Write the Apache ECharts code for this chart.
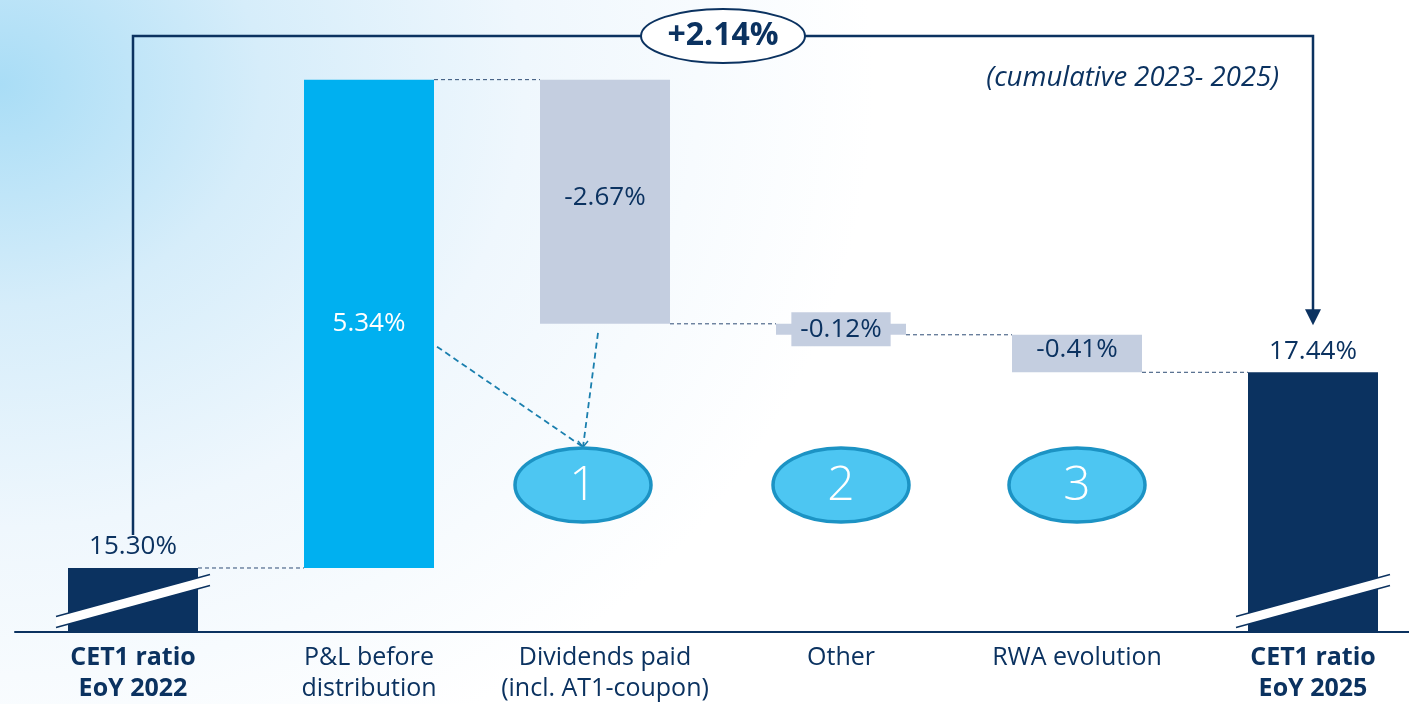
<!DOCTYPE html>
<html>
<head>
<meta charset="utf-8">
<script src="https://cdn.jsdelivr.net/npm/echarts@6/dist/echarts.min.js"></script>
<style>
  html, body { margin: 0; padding: 0; }
  body {
    background: radial-gradient(ellipse 62% 105% at 0% 12%, #a9ddf6 0%, #d6edfa 30%, #eff7fd 60%, #ffffff 100%);
  }
  #chart { width: 1409px; height: 704px; }
</style>
</head>
<body>
<div id="chart"></div>
<script>
  // categories and values (in % points of CET1 ratio)
  var categories = ['CET1 ratio\nEoY 2022', 'P&L before\ndistribution', 'Dividends paid\n(incl. AT1-coupon)', 'Other', 'RWA evolution', 'CET1 ratio\nEoY 2025'];
  var changes = [15.30, 5.34, -2.67, -0.12, -0.41, 17.44];
  var isTotal = [true, false, false, false, false, true];
  var markerLabels = ['1', '2', '3'];
  var markerCats = [2, 3, 4];
  var subtitle = '(cumulative 2023- 2025)';
  var breakLevel = 14.94;   // where the axis-break slash sits on the total bars

  var NAVY = '#0b3260';
  var CYAN = '#00b0f0';
  var GREY = '#c4cee0';
  var FONT = '"Open Sans", sans-serif';

  // waterfall: transparent base + visible part
  var bases = [], heights = [], levels = [];
  var running = 0;
  changes.forEach(function (v, i) {
    if (isTotal[i]) {
      bases.push(0); heights.push(v); running = v;
    } else if (v >= 0) {
      bases.push(running); heights.push(v); running += v;
    } else {
      running += v; bases.push(running); heights.push(-v);
    }
    levels.push(+running.toFixed(2));
  });

  function fmt(v) { return (v < 0 ? '-' : '') + Math.abs(v).toFixed(2) + '%'; }

  var valueData = heights.map(function (h, i) {
    var color = isTotal[i] ? NAVY : (changes[i] >= 0 ? CYAN : GREY);
    var label;
    if (isTotal[i]) {
      label = { position: 'top', distance: 8, color: NAVY };
    } else if (changes[i] >= 0) {
      label = { position: 'inside', color: '#ffffff' };
    } else if (h < 0.2) {
      label = { position: 'inside', color: NAVY, backgroundColor: GREY, padding: [4, 9], lineHeight: 26 };
    } else {
      label = { position: 'inside', color: NAVY, offset: [0, -4] };
    }
    return { value: h, itemStyle: { color: color }, label: label };
  });

  var connectorData = [];
  for (var i = 0; i < levels.length - 1; i++) connectorData.push([i, levels[i]]);

  var breakData = [];
  isTotal.forEach(function (t, i) { if (t) breakData.push([i, breakLevel]); });

  var chart = echarts.init(document.getElementById('chart'), null, { renderer: 'canvas' });

  var option = {
    backgroundColor: 'transparent',
    animation: false,
    grid: { left: 15, right: -22, top: 1, bottom: 72, outerBoundsMode: 'none' },
    xAxis: {
      type: 'category',
      data: categories.map(function (c, i) {
        return { value: c, textStyle: { fontWeight: isTotal[i] ? 'bold' : 'normal' } };
      }),
      axisLine: { lineStyle: { color: NAVY, width: 2 } },
      axisTick: { show: false },
      axisLabel: {
        interval: 0, margin: 10, color: NAVY, fontFamily: FONT,
        fontSize: 25, lineHeight: 31
      }
    },
    yAxis: { type: 'value', min: 14.6, max: 21.5, show: false, splitLine: { show: false } },
    series: [
      {
        name: 'base', type: 'bar', stack: 'w', barWidth: 130, silent: true,
        itemStyle: { color: 'transparent' }, data: bases
      },
      {
        name: 'value', type: 'bar', stack: 'w', barWidth: 130,
        label: {
          show: true, fontFamily: FONT, fontSize: 26,
          formatter: function (p) { return fmt(changes[p.dataIndex]); }
        },
        data: valueData
      },
      {
        // dashed connectors between bars
        name: 'connectors', type: 'custom', silent: true, z: 1,
        renderItem: function (params, api) {
          var c = api.coord([api.value(0), api.value(1)]);
          var bw = api.size([1, 0])[0];
          return {
            type: 'line',
            shape: { x1: c[0] + 65, y1: c[1], x2: c[0] + bw - 65, y2: c[1] },
            style: { stroke: '#2f4d75', lineWidth: 1, lineDash: [4, 3] }
          };
        },
        data: connectorData
      },
      {
        // axis-break slash on total bars
        name: 'breaks', type: 'custom', silent: true, z: 5, clip: false,
        renderItem: function (params, api) {
          var c = api.coord([api.value(0), api.value(1)]);
          var half = 77, rise = 21, th = 5.5;
          var a = [c[0] - half, c[1] + rise], b = [c[0] + half, c[1] - rise];
          return {
            type: 'group',
            children: [
              { type: 'polygon', shape: { points: [[a[0], a[1] - th], [b[0], b[1] - th], [b[0], b[1] + th], [a[0], a[1] + th]] }, style: { fill: '#ffffff' } },
              { type: 'line', shape: { x1: a[0], y1: a[1] - th, x2: b[0], y2: b[1] - th }, style: { stroke: NAVY, lineWidth: 1.5 } },
              { type: 'line', shape: { x1: a[0], y1: a[1] + th, x2: b[0], y2: b[1] + th }, style: { stroke: NAVY, lineWidth: 1.5 } }
            ]
          };
        },
        data: breakData
      }
    ]
  };

  chart.setOption(option);

  // annotations positioned from the axes
  function px(i, v) { return chart.convertToPixel({ gridIndex: 0 }, [i, v]); }
  var last = changes.length - 1;
  var pStart = px(0, changes[0]);
  var pEnd = px(last, changes[last]);
  var topY = 36;
  var delta = changes[last] - changes[0];
  var ovalX = 723;
  var graphics = [
    {
      type: 'polyline', z: 10,
      shape: { points: [[pStart[0], pStart[1] - 33], [pStart[0], topY], [pEnd[0], topY], [pEnd[0], pEnd[1] - 62]] },
      style: { stroke: NAVY, lineWidth: 2.5, fill: null }
    },
    {
      type: 'polygon', z: 10,
      shape: { points: [[pEnd[0] - 8, pEnd[1] - 63], [pEnd[0] + 8, pEnd[1] - 63], [pEnd[0], pEnd[1] - 47]] },
      style: { fill: NAVY }
    },
    {
      type: 'ellipse', z: 11,
      shape: { cx: ovalX, cy: topY, rx: 82, ry: 27 },
      style: { fill: '#ffffff', stroke: NAVY, lineWidth: 2 }
    },
    {
      type: 'text', z: 12, x: ovalX, y: topY,
      style: { text: '+' + delta.toFixed(2) + '%', fill: NAVY, font: 'bold 32px ' + FONT, align: 'center', verticalAlign: 'middle' }
    },
    {
      type: 'text', z: 12, x: 1279, y: 78,
      style: { text: subtitle, fill: NAVY, font: 'italic 27.5px ' + FONT, align: 'right', verticalAlign: 'middle' }
    }
  ];

  // numbered markers below the adjustments
  var markerY = 485;
  var markerOffsets = [-22, 0, 0];
  markerCats.forEach(function (ci, k) {
    var p = px(ci, 16);
    var cx = p[0] + markerOffsets[k];
    graphics.push({
      type: 'ellipse', z: 10,
      shape: { cx: cx, cy: markerY, rx: 68, ry: 37 },
      style: { fill: '#4dc6f2', stroke: '#1c93c4', lineWidth: 3.5 }
    });
    graphics.push({
      type: 'text', z: 11, x: cx, y: markerY + 1,
      style: { text: markerLabels[k], fill: '#ffffff', font: '300 48px ' + FONT, align: 'center', verticalAlign: 'middle' }
    });
  });

  // dashed pointers to marker 1
  var p1 = px(1, 17.72);
  var p2 = px(2, levels[2]);
  var tip = [p2[0] - 22, markerY - 38];
  var TEAL = '#1a7fae';
  graphics.push(
    { type: 'line', z: 9, shape: { x1: p1[0] + 68, y1: p1[1], x2: tip[0], y2: tip[1] }, style: { stroke: TEAL, lineWidth: 1.8, lineDash: [6, 4] } },
    { type: 'line', z: 9, shape: { x1: p2[0] - 7, y1: p2[1] + 9, x2: tip[0], y2: tip[1] }, style: { stroke: TEAL, lineWidth: 1.8, lineDash: [6, 4] } },
    { type: 'polyline', z: 9, shape: { points: [[tip[0] - 5, tip[1] - 6], [tip[0], tip[1]], [tip[0] + 5, tip[1] - 6]] }, style: { stroke: TEAL, lineWidth: 1.5, fill: null } }
  );

  chart.setOption({ graphic: graphics });
</script>
</body>
</html>
